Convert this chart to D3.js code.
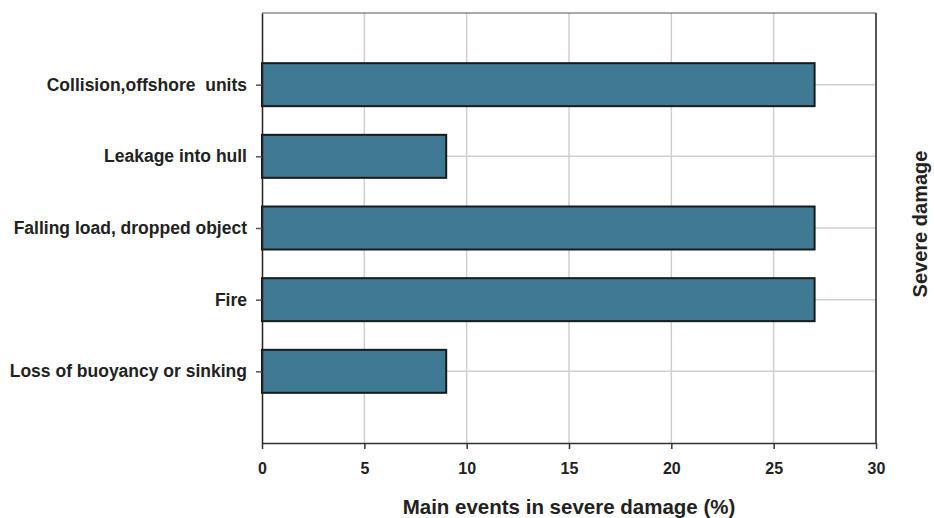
<!DOCTYPE html>
<html>
<head>
<meta charset="utf-8">
<script src="https://cdn.jsdelivr.net/npm/d3@7"></script>
<style>
  html, body { margin: 0; padding: 0; background: #fff; }
  svg { display: block; }
  text { font-family: "Liberation Sans", Arial, sans-serif; font-weight: bold; fill: #222; white-space: pre; }
</style>
</head>
<body>
<script>
const categories = ["Collision,offshore  units", "Leakage into hull", "Falling load, dropped object", "Fire", "Loss of buoyancy or sinking"];
const values = [27, 9, 27, 27, 9];
const xTicks = [0, 5, 10, 15, 20, 25, 30];
const xTitle = "Main events in severe damage (%)";
const rightTitle = "Severe damage";

const W = 934, H = 518;
const m = { left: 262, right: 876, top: 13, bottom: 443 };

const svg = d3.select("body").append("svg").attr("width", W).attr("height", H);

const x = d3.scaleLinear().domain([0, 30]).range([m.left, m.right]);
const y = d3.scalePoint().domain(categories).range([m.top, m.bottom]).padding(1);
const barH = y.step() * 0.6;

// gridlines
svg.append("g").selectAll("line").data(xTicks.slice(1, -1)).join("line")
  .attr("x1", d => x(d)).attr("x2", d => x(d))
  .attr("y1", m.top).attr("y2", m.bottom)
  .attr("stroke", "#cfcfcf").attr("stroke-width", 1.5);
svg.append("g").selectAll("line").data(categories).join("line")
  .attr("x1", m.left).attr("x2", m.right)
  .attr("y1", d => y(d)).attr("y2", d => y(d))
  .attr("stroke", "#cfcfcf").attr("stroke-width", 1.5);

// frame top/right
svg.append("line").attr("x1", m.left).attr("x2", m.right).attr("y1", m.top).attr("y2", m.top)
  .attr("stroke", "#555").attr("stroke-width", 1.2);
svg.append("line").attr("x1", m.right).attr("x2", m.right).attr("y1", m.top).attr("y2", m.bottom)
  .attr("stroke", "#222").attr("stroke-width", 1.5);

// bars
svg.append("g").selectAll("rect").data(categories).join("rect")
  .attr("x", x(0))
  .attr("y", d => y(d) - barH / 2)
  .attr("width", (d, i) => x(values[i]) - x(0))
  .attr("height", barH)
  .attr("fill", "#3e7a93")
  .attr("stroke", "#1a1a1a").attr("stroke-width", 2);

// x axis
const xAxis = svg.append("g").attr("transform", `translate(0,${m.bottom})`)
  .call(d3.axisBottom(x).tickValues(xTicks).tickSize(6).tickSizeOuter(0).tickPadding(13.5));
xAxis.select(".domain").attr("stroke", "#333").attr("stroke-width", 1.5);
xAxis.selectAll(".tick line").attr("stroke", "#333").attr("stroke-width", 1.5);
xAxis.selectAll(".tick text").attr("font-size", 16).attr("font-family", "Liberation Sans, Arial, sans-serif")
  .attr("font-weight", "bold").attr("fill", "#222");

// y axis
const yAxis = svg.append("g").attr("transform", `translate(${m.left},0)`)
  .call(d3.axisLeft(y).tickSize(6).tickSizeOuter(0).tickPadding(9));
yAxis.select(".domain").attr("stroke", "#222").attr("stroke-width", 1.5);
yAxis.selectAll(".tick line").attr("stroke", "#555").attr("stroke-width", 1.5);
yAxis.selectAll(".tick text").attr("font-size", 17.5).attr("font-family", "Liberation Sans, Arial, sans-serif")
  .attr("font-weight", "bold").attr("fill", "#222").style("white-space", "pre");

// titles
svg.append("text").attr("x", (m.left + m.right) / 2).attr("y", 514)
  .attr("text-anchor", "middle").attr("font-size", 20.5).text(xTitle);
svg.append("text").attr("transform", `translate(927,224) rotate(-90)`)
  .attr("text-anchor", "middle").attr("font-size", 20).text(rightTitle);
</script>
</body>
</html>
